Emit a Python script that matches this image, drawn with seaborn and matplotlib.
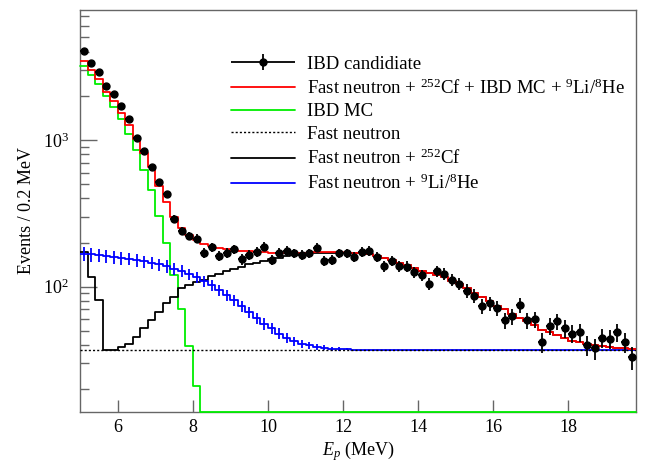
import numpy as np
import matplotlib
matplotlib.use("Agg")
import matplotlib.pyplot as plt
from matplotlib.container import ErrorbarContainer
from matplotlib.legend_handler import HandlerErrorbar
from matplotlib.ticker import LogLocator, NullFormatter, NullLocator
import seaborn as sns

# 0.2 MeV bins from 5.0 to 19.8 MeV
bin_edges = np.linspace(5.0, 19.8, 75)
bin_centers = 0.5 * (bin_edges[:-1] + bin_edges[1:])

# IBD candidates (events per bin)
ibd_counts = [4045, 3335, 2890, 2323, 2060, 1697, 1390, 1037, 841, 652,
              520, 428, 289, 239, 222, 213, 171, 186, 162, 171,
              180, 154, 164, 173, 188, 152, 171, 175, 169, 165,
              169, 185, 150, 152, 169, 169, 160, 173, 176, 160,
              138, 150, 138, 137, 126, 120, 105, 128, 123, 112,
              105, 94, 87, 74, 77, 72, 59, 63, 75, 59,
              60, 42, 54, 58, 52, 48, 49, 40, 38, 45,
              44, 49, 42, 33]

# Fast neutron + 252Cf + IBD MC + 9Li/8He
total_fit = [3475, 3000, 2594, 2135, 1845, 1535, 1265, 1016, 811, 650,
             486, 379, 300, 252, 226, 208, 197, 190, 185, 181,
             178, 176, 174, 173, 172, 171, 171, 171, 171, 171,
             171, 172, 172, 172, 172, 171, 170, 169, 166, 161,
             156, 151, 146, 141, 135, 129, 125, 121, 116, 110,
             104, 98, 91, 85, 80, 74, 70, 65, 61, 58,
             55, 51, 49, 47, 45, 43, 42, 41, 40, 39.5,
             39, 38.5, 38, 37.7]

# IBD MC
ibd_mc = [3205, 2786, 2398, 2004, 1678, 1390, 1094, 851, 624, 454,
          303, 198, 121, 70, 39.6, 21.1, 0, 0, 0, 0,
          0, 0, 0, 0, 0, 0, 0, 0, 0, 0,
          0, 0, 0, 0, 0, 0, 0, 0, 0, 0,
          0, 0, 0, 0, 0, 0, 0, 0, 0, 0,
          0, 0, 0, 0, 0, 0, 0, 0, 0, 0,
          0, 0, 0, 0, 0, 0, 0, 0, 0, 0,
          0, 0, 0, 0]

# Fast neutron (flat)
fast_neutron = [37.2] * 74

# Fast neutron + 252Cf
fn_cf = [173, 117, 81, 37.2, 37.2, 39, 41, 45.6, 52, 59.3,
         67.6, 77, 85.5, 98, 103, 107, 112, 118, 123, 128,
         133, 137, 142, 146, 150, 154, 158, 162, 165, 167,
         169, 170, 171, 171, 171, 171, 170, 169, 166, 161,
         156, 151, 146, 141, 135, 129, 125, 121, 116, 110,
         104, 98, 91, 85, 80, 74, 70, 65, 61, 58,
         55, 51, 49, 47, 45, 43, 42, 41, 40, 39.5,
         39, 38.5, 38, 37.7]

# Fast neutron + 9Li/8He, with its uncertainty
fn_li = [168, 166, 164, 162, 160, 157, 155, 152, 149, 146,
         142, 138, 133, 128, 122, 116, 109, 102, 95, 88,
         81, 74, 67, 61, 56, 52, 48, 45, 42.5, 41,
         39.8, 39, 38.3, 37.9, 37.6, 37.4] + [37.2] * 38
fn_li_err = [18, 18, 17, 17, 16, 16, 15, 15, 14, 14,
             13, 13, 12, 12, 11, 10.5, 10, 9, 8.5, 7.5,
             7, 6.5, 6, 5.5, 5, 4.5, 4, 3.5, 3, 2.5,
             2, 1.8, 1.5, 1.2, 1.0, 0.6] + [0] * 38

y_low, y_high = 14.0, 7756
bins = list(bin_edges)

sns.set_theme(style="ticks")
plt.rcParams.update({
    "font.family": ["Liberation Serif", "DejaVu Serif"],
    "mathtext.fontset": "custom",
    "mathtext.rm": "Liberation Serif",
    "mathtext.it": "Liberation Serif:italic",
    "mathtext.bf": "Liberation Serif:bold",
    "axes.edgecolor": "#666666",
    "axes.linewidth": 1.0,
    "text.color": "black",
    "axes.labelcolor": "black",
    "xtick.labelcolor": "black",
    "ytick.labelcolor": "black",
})

fig = plt.figure(figsize=(6.46, 4.62), dpi=100)
ax = fig.add_axes([0.1241, 0.1082, 0.8604, 0.8712])
ax.set_yscale("log")

lw = 1.3
sns.histplot(x=bin_centers, weights=np.clip(ibd_mc, y_low, None), bins=bins,
             element="step", fill=False, color="#00ee00", linewidth=lw,
             ax=ax, zorder=3, clip_on=False)
h_mc = ax.lines[-1]
sns.histplot(x=bin_centers, weights=fn_cf, bins=bins, element="step",
             fill=False, color="black", linewidth=lw, ax=ax, zorder=3)
h_cf = ax.lines[-1]
sns.histplot(x=bin_centers, weights=fn_li, bins=bins, element="step",
             fill=False, color="blue", linewidth=lw, ax=ax, zorder=4)
h_li = ax.lines[-1]
ax.errorbar(bin_centers, fn_li, yerr=fn_li_err, fmt="none", ecolor="blue",
            elinewidth=lw, zorder=4)
sns.histplot(x=bin_centers, weights=fast_neutron, bins=bins, element="step",
             fill=False, color="black", linewidth=1.0, linestyle=(0, (1.5, 1.5)),
             ax=ax, zorder=4.5)
h_fn = ax.lines[-1]
sns.histplot(x=bin_centers, weights=total_fit, bins=bins, element="step",
             fill=False, color="red", linewidth=lw, ax=ax, zorder=5)
h_tot = ax.lines[-1]

h_data = ax.errorbar(bin_centers, ibd_counts, yerr=np.sqrt(ibd_counts), xerr=0.1,
                     fmt="o", color="black", ms=5, elinewidth=1.3, capsize=0,
                     zorder=6)

ax.set_xlim(5.0, 19.8)
ax.set_ylim(y_low, y_high)
ax.set_xticks(np.arange(6, 19, 2))
ax.xaxis.set_minor_locator(NullLocator())
ax.yaxis.set_major_locator(LogLocator(base=10, numticks=10))
ax.yaxis.set_minor_locator(LogLocator(base=10, subs=np.arange(2, 10), numticks=20))
ax.yaxis.set_minor_formatter(NullFormatter())
ax.tick_params(which="both", direction="in", top=False, right=False,
               color="#666666", labelsize=13, width=1.0)
ax.tick_params(axis="x", which="major", length=8.6, pad=5)
ax.tick_params(axis="y", which="major", length=12, pad=8)
ax.tick_params(axis="y", which="minor", length=6.5)

ax.set_xlabel("$E_{p}$ (MeV)", fontsize=13, labelpad=2)
ax.set_ylabel("Events / 0.2 MeV", fontsize=13, labelpad=6)

handles = [h_data, h_tot, h_mc, h_fn, h_cf, h_li]
labels = ["IBD candidiate",
          "Fast neutron + $^{252}$Cf + IBD MC + $^{9}$Li/$^{8}$He",
          "IBD MC",
          "Fast neutron",
          "Fast neutron + $^{252}$Cf",
          "Fast neutron + $^{9}$Li/$^{8}$He"]
ax.legend(handles, labels, loc="upper left", bbox_to_anchor=(0.271, 0.886),
          frameon=False, fontsize=13.5, handlelength=3.4, handletextpad=0.65,
          labelspacing=0.3, borderpad=0, borderaxespad=0,
          handler_map={ErrorbarContainer: HandlerErrorbar(xerr_size=1.7, yerr_size=0.45)})

fig.savefig("out.png", dpi=100)
